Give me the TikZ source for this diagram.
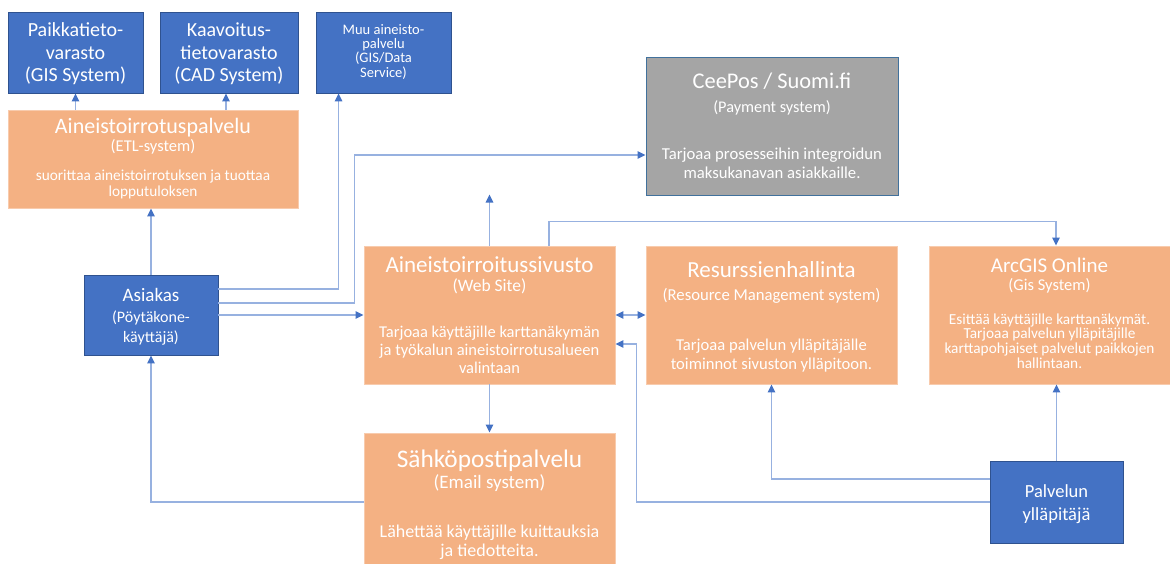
\documentclass[tikz,border=0pt]{standalone}
\usepackage{fontspec}
\setmainfont{Carlito}
\usetikzlibrary{arrows.meta,calc}

\definecolor{bluefill}{HTML}{4472C4}
\definecolor{blueedge}{HTML}{2F528F}
\definecolor{orangefill}{HTML}{F4B183}
\definecolor{orangeedge}{HTML}{F8CBAD}
\definecolor{grayfill}{HTML}{A5A5A5}
\definecolor{grayedge}{HTML}{41719C}
\definecolor{wirecol}{HTML}{97B1E0}
\definecolor{tipcol}{HTML}{4472C4}

% one centred line: size, distance from the previous baseline, text
\newcommand\txtline[3]{{\fontsize{#1pt}{#2pt}\selectfont #3\par}}
% top-aligned block of lines, baseline at the first line
\newcommand\boxtext[2]{\parbox[t]{#1pt}{\centering\lineskiplimit=-1000pt #2}}

\tikzset{
  box/.style={rectangle, inner sep=0pt, text=white, line width=0.9pt, text height=0pt},
  bluebox/.style={box, fill=bluefill, draw=blueedge},
  orangebox/.style={box, fill=orangefill, draw=orangeedge},
  graybox/.style={box, fill=grayfill, draw=grayedge},
  wire/.style={draw=wirecol, line width=1.3pt,
    -{Triangle[length=8pt,width=7.5pt,color=tipcol]}},
  wire2/.style={draw=wirecol, line width=1.3pt,
    {Triangle[length=8pt,width=7.5pt,color=tipcol]}-{Triangle[length=8pt,width=7.5pt,color=tipcol]}},
}

\begin{document}
\begin{tikzpicture}[x=1pt,y=-1pt]
\useasboundingbox[fill=white] (0,0) rectangle (1170,564);

% data stores
\node[bluebox, minimum width=135pt, minimum height=81pt, text depth=31pt] (paik) at (75.5,52.5)
  {\boxtext{130}{\txtline{20}{20}{Paikkatieto-}\txtline{20}{22.5}{varasto}\txtline{20}{22.5}{(GIS System)}}};
\node[bluebox, minimum width=138pt, minimum height=81pt, text depth=31pt] (kaav) at (229,52.5)
  {\boxtext{132}{\txtline{20}{20}{Kaavoitus-}\txtline{20}{22.5}{tietovarasto}\txtline{20}{22.5}{(CAD System)}}};
\node[bluebox, minimum width=135pt, minimum height=81pt, text depth=36.4pt] (muu) at (383.5,52.5)
  {\boxtext{130}{\txtline{14.5}{14}{Muu aineisto-}\txtline{14.5}{14.3}{palvelu}\txtline{14.5}{14.3}{(GIS/Data}\txtline{14.5}{14.3}{Service)}}};

% ETL service
\node[orangebox, minimum width=290pt, minimum height=98pt, text depth=51.4pt] (etl) at (153,159)
  {\boxtext{284}{\txtline{22}{22}{Aineistoirrotuspalvelu}\txtline{16.5}{18.4}{(ETL-system)}\txtline{15.3}{29}{suorittaa aineistoirrotuksen ja tuottaa}\txtline{15.3}{15.5}{lopputuloksen}}};

% payment
\node[graybox, minimum width=252pt, minimum height=138pt, text depth=76pt] (ceepos) at (772,126.5)
  {\boxtext{246}{\txtline{22.4}{22}{CeePos / Suomi.fi}\txtline{16.3}{24.5}{(Payment system)}\txtline{16.7}{47}{Tarjoaa prosesseihin integroidun}\txtline{16.7}{18.5}{maksukanavan asiakkaille.}}};

% customer
\node[bluebox, minimum width=134pt, minimum height=80pt, text depth=27pt] (asiakas) at (151,315)
  {\boxtext{128}{\txtline{19}{19}{Asiakas}\txtline{16}{21}{(Pöytäkone-}\txtline{16}{19.5}{käyttäjä)}}};

% web site
\node[orangebox, minimum width=251pt, minimum height=138pt, text depth=85.4pt] (web) at (489.5,315)
  {\boxtext{245}{\txtline{23}{23}{Aineistoirroitussivusto}\txtline{17.5}{19.4}{(Web Site)}\txtline{16.5}{46}{Tarjoaa käyttäjille karttanäkymän}\txtline{16.5}{17.8}{ja työkalun aineistoirrotusalueen}\txtline{16.5}{17.6}{valintaan}}};

% resource management
\node[orangebox, minimum width=251pt, minimum height=138pt, text depth=74.6pt] (res) at (771.5,315)
  {\boxtext{245}{\txtline{23}{23}{Resurssienhallinta}\txtline{16.7}{23}{(Resource Management system)}\txtline{16.6}{49.3}{Tarjoaa palvelun ylläpitäjälle}\txtline{16.6}{19.3}{toiminnot sivuston ylläpitoon.}}};

% ArcGIS Online
\node[orangebox, minimum width=241pt, minimum height=138pt, text depth=84.6pt] (arcgis) at (1049.5,315)
  {\boxtext{236}{\txtline{21}{21}{ArcGIS Online}\txtline{16.5}{17.5}{(Gis System)}\txtline{15.3}{34}{Esittää käyttäjille karttanäkymät.}\txtline{15.3}{14.7}{Tarjoaa palvelun ylläpitäjille}\txtline{15.3}{14.7}{karttapohjaiset palvelut paikkojen}\txtline{15.3}{14.7}{hallintaan.}}};

% e-mail
\node[orangebox, minimum width=251pt, minimum height=137pt, text depth=69pt] (email) at (489.5,501.5)
  {\boxtext{245}{\txtline{25.3}{25}{Sähköpostipalvelu}\txtline{19}{21}{(Email system)}\txtline{18}{49}{Lähettää käyttäjille kuittauksia}\txtline{18}{19}{ja tiedotteita.}}};

% administrator
\node[bluebox, minimum width=133pt, minimum height=82pt, text depth=10pt] (pal) at (1056.5,502)
  {\boxtext{127}{\txtline{18.5}{18}{Palvelun}\txtline{18.5}{23}{ylläpitäjä}}};

% connector end points
\coordinate (muuIn) at ($(muu.south west)+(23,0)$);
\coordinate (cpIn) at ($(ceepos.west)+(0,28.5)$);
\coordinate (webUp) at ($(web.north)+(0,-51)$);
\coordinate (webOut) at ($(web.north)+(59.5,0)$);
\coordinate (agIn) at ($(arcgis.north)+(6.5,0)$);

% connectors
\draw[wire] (etl.north -| paik.south) -- (paik.south);
\draw[wire] ($(etl.north -| kaav.south)+(-3,0)$) -- ($(kaav.south)+(-3,0)$);
\draw[wire] (asiakas.north) -- (asiakas.north |- etl.south);
\draw[wire] ($(asiakas.east)+(0,-26)$) -| (muuIn);
\draw[wire] ($(asiakas.east)+(0,-12)$) -- ++(136,0) |- (cpIn);
\draw[wire] (asiakas.east) -- (web.west);
\draw[wire2] (web.east) -- (res.west);
\draw[wire] (web.north) -- (webUp);
\draw[wire] (webOut) -- ++(0,-24) -| (agIn);
\draw[wire] (web.south) -- (email.north);
\draw[wire] ($(email.west)+(0,0.5)$) -| (asiakas.south);
\draw[wire] ($(pal.west)+(0,-23)$) -| (res.south);
\draw[wire] (pal.west) -- ++(-353,0) |- ($(web.east)+(0,29)$);
\draw[wire] (pal.north) -- (pal.north |- arcgis.south);
\end{tikzpicture}
\end{document}
